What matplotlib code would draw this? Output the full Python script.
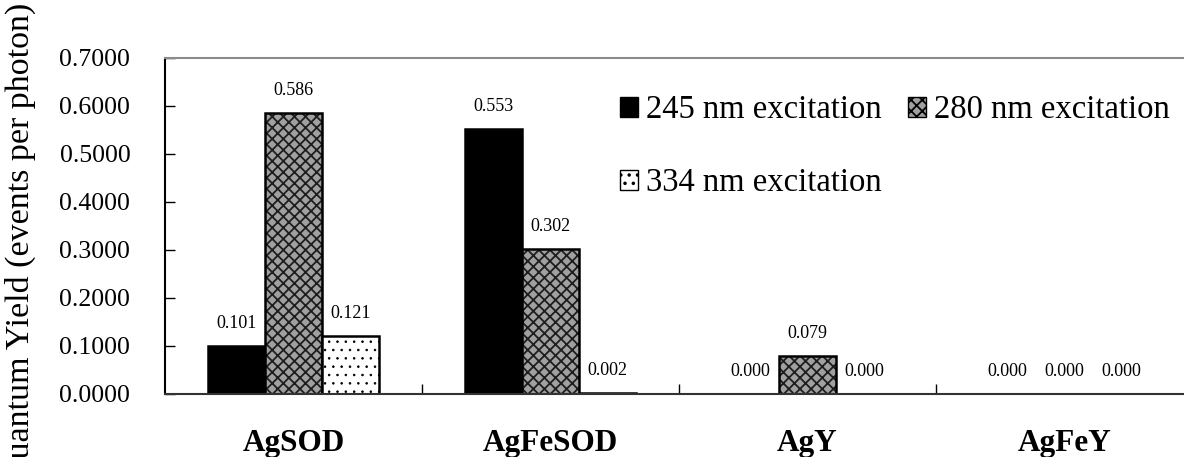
import numpy as np
import matplotlib
matplotlib.use("Agg")
import matplotlib.pyplot as plt
from matplotlib.patches import Patch

plt.rcParams['font.family'] = ['Liberation Serif', 'DejaVu Serif']
plt.rcParams['hatch.linewidth'] = 1.3

# data
samples = ["AgSOD", "AgFeSOD", "AgY", "AgFeY"]
series_names = ["245 nm excitation", "280 nm excitation", "334 nm excitation"]
yield_245 = [0.101, 0.553, 0.000, 0.000]
yield_280 = [0.586, 0.302, 0.079, 0.000]
yield_334 = [0.121, 0.002, 0.000, 0.000]
y_ticks = [0.0, 0.1, 0.2, 0.3, 0.4, 0.5, 0.6, 0.7]

series = [yield_245, yield_280, yield_334]
# face, hatch, hatch colour, hatch line width
styles = [("black", None, "black", 1.0),
          ("#a0a0a0", "xxx", "#1e1e1e", 1.3),
          ("white", "..", "black", 0.6)]

fig = plt.figure(figsize=(11.84, 4.57), dpi=100)
ax = fig.add_axes([165/1184, 63/457, 1028/1184, 336/457])

x = np.arange(len(samples)) + 0.5
w = 1/4.5
for i, (vals, (fc, hatch, hc, hlw)) in enumerate(zip(series, styles)):
    pos = x + (i - 1) * w
    if hatch:
        with plt.rc_context({'hatch.linewidth': hlw}):
            ax.bar(pos, vals, w, color=fc, hatch=hatch, edgecolor=hc, linewidth=0)
    ax.bar(pos, vals, w, facecolor=fc if not hatch else "none",
           edgecolor="black", linewidth=1.8)
    for p, v in zip(pos, vals):
        ax.annotate(f"{v:.3f}", (p, v), xytext=(0, 16), textcoords="offset points",
                    ha="center", va="center", fontsize=13)

ax.set_xlim(0, 4)
ax.set_ylim(0, 0.7)
ax.set_yticks(y_ticks)
ax.set_yticklabels([f"{t:.4f}" for t in y_ticks], fontsize=18.5)
ax.tick_params(axis="y", direction="in", length=7, width=1, pad=25)

ax.set_xticks([1, 2, 3, 4])
ax.set_xticklabels([])
ax.tick_params(axis="x", which="major", direction="in", length=7, width=1)
ax.set_xticks(x, minor=True)
ax.set_xticklabels(samples, minor=True, fontsize=22.5, fontweight="bold")
ax.tick_params(axis="x", which="minor", length=0, pad=25)

ax.spines["right"].set_visible(False)
ax.spines["top"].set_color("#8c8c8c")
ax.spines["top"].set_linewidth(1.5)
ax.spines["left"].set_linewidth(1.5)
ax.spines["bottom"].set_color("#333333")
ax.spines["bottom"].set_linewidth(1.5)

fig.text(20/1184, 1 - 243/457, "Quantum Yield (events per photon)", rotation=90,
         ha="center", va="center", fontsize=24.5)

handles = []
for name, (fc, hatch, hc, hlw) in zip(series_names, styles):
    handles.append(Patch(facecolor=fc, hatch=hatch, edgecolor="black", linewidth=1, label=name))
# legend fills column by column, so reorder to get 245, 280 on the first row
leg = fig.legend(handles=[handles[0], handles[2], handles[1]], ncol=2, loc="upper left",
                 bbox_to_anchor=(620/1184, 1 - 95/457), frameon=False,
                 fontsize=23.5, handlelength=0.55, handleheight=0.55,
                 handletextpad=0.25, columnspacing=0.8, labelspacing=1.3,
                 borderpad=0, borderaxespad=0)

fig.savefig("out.png", dpi=100)
